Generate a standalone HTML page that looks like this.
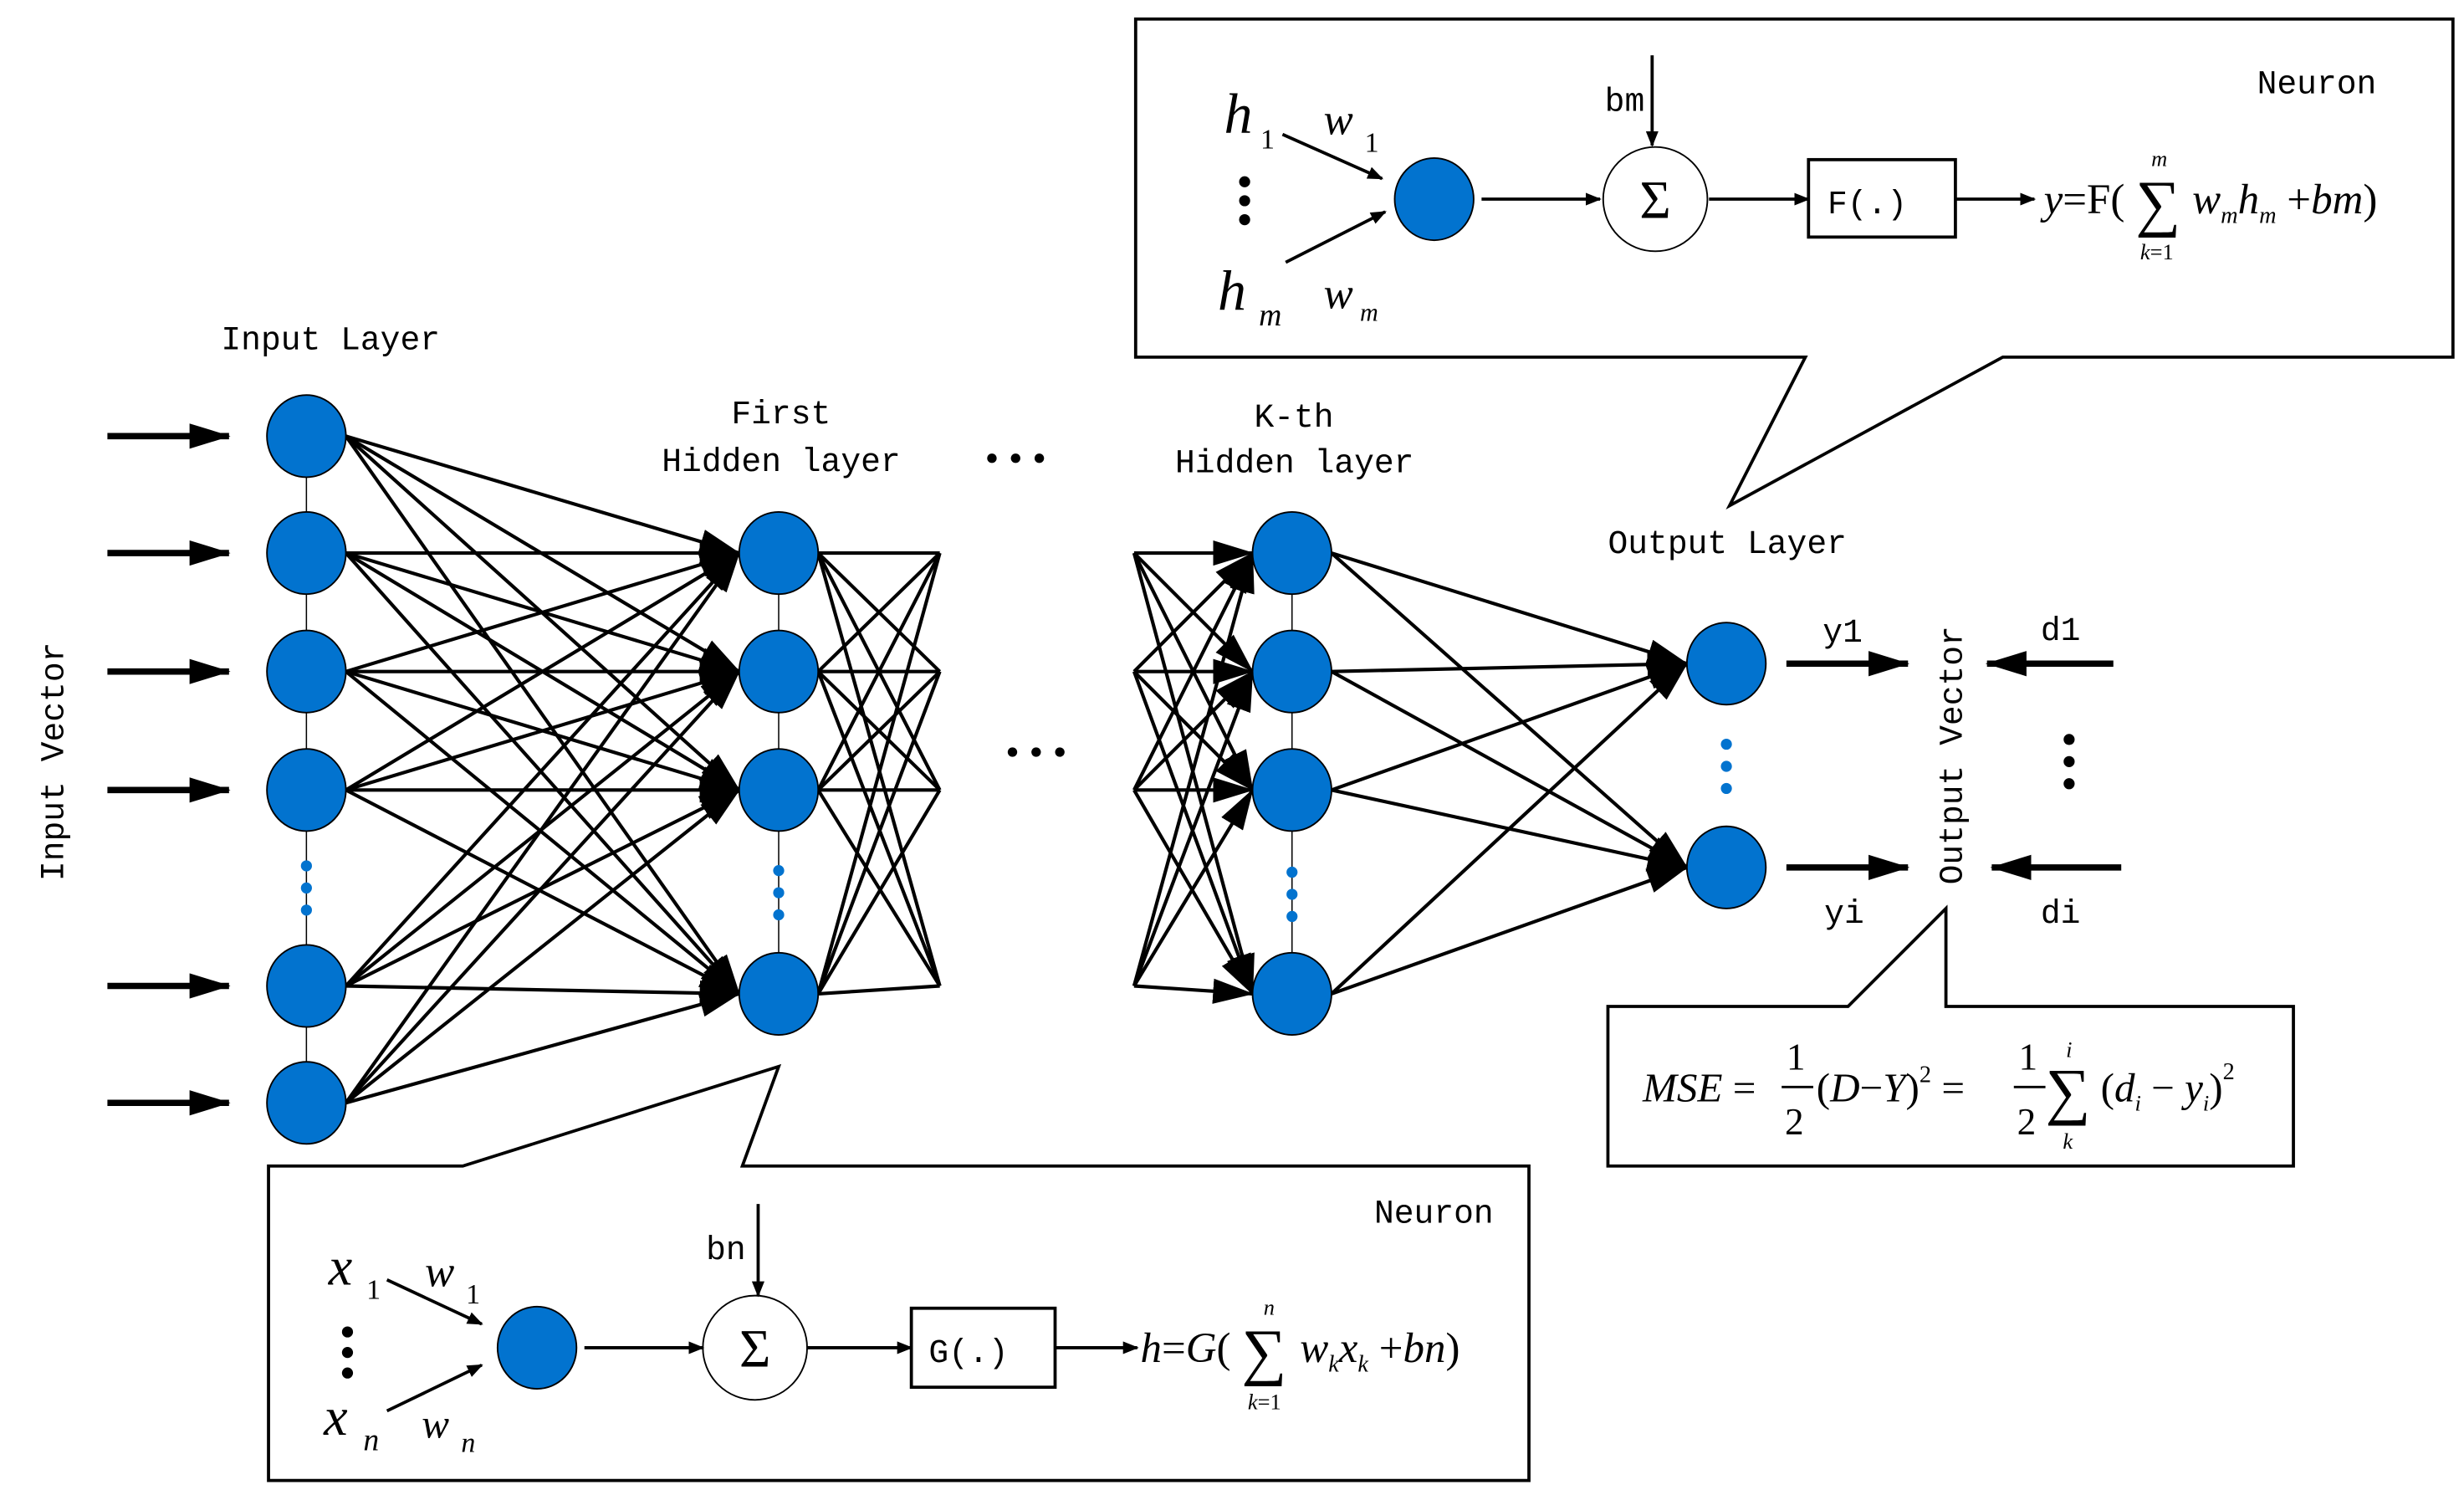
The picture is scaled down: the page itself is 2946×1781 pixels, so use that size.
<!DOCTYPE html>
<html><head><meta charset="utf-8"><style>
html,body{margin:0;padding:0;background:#fff}
svg{display:block}
.m{font-family:"Liberation Mono","Noto Sans CJK SC",monospace;font-size:21px;fill:#000}
.s{font-family:"Liberation Serif",serif;fill:#000}
.i{font-style:italic}
</style></head><body>
<svg width="2946" height="1781" viewBox="0 0 1560 943" xmlns="http://www.w3.org/2000/svg">
<defs>
<marker id="a" markerWidth="10" markerHeight="8" refX="9" refY="4" orient="auto" markerUnits="userSpaceOnUse" viewBox="0 0 10 8"><path d="M0,0 L10,4 L0,8 Z" fill="#000"/></marker>
<marker id="b" markerWidth="26" markerHeight="16" refX="25" refY="8" orient="auto" markerUnits="userSpaceOnUse" viewBox="0 0 26 16"><path d="M0,0 L26,8 L0,16 Z" fill="#000"/></marker>
</defs>
<g stroke="#000" stroke-width="0.8" fill="none">
<line x1="194" y1="276" x2="194" y2="698"/>
<line x1="493" y1="350" x2="493" y2="629"/>
<line x1="818" y1="350" x2="818" y2="629"/>
</g>
<g stroke="#000" stroke-width="4" marker-end="url(#b)">
<line x1="68" y1="276" x2="145" y2="276"/><line x1="68" y1="350" x2="145" y2="350"/>
<line x1="68" y1="425" x2="145" y2="425"/><line x1="68" y1="500" x2="145" y2="500"/>
<line x1="68" y1="624" x2="145" y2="624"/><line x1="68" y1="698" x2="145" y2="698"/>
</g>
<g stroke="#000" stroke-width="2.2" id="c1"></g>
<g stroke="#000" stroke-width="2.2" id="c2"></g>
<script>
var ns="http://www.w3.org/2000/svg";
function L(g,x1,y1,x2,y2,m){var l=document.createElementNS(ns,"line");l.setAttribute("x1",x1);l.setAttribute("y1",y1);l.setAttribute("x2",x2);l.setAttribute("y2",y2);if(m)l.setAttribute("marker-end","url(#"+m+")");g.appendChild(l);}
var g=document.getElementById("c1"),g2=document.getElementById("c2");
var I=[276,350,425,500,624,698],H=[350,425,500,629],P=[350,425,500,624],K=[350,425,500,629],O=[420,549];
I.forEach(function(a){H.forEach(function(b){L(g,219,a,468,b,"b");});});
H.forEach(function(a){P.forEach(function(b){L(g2,518,a,595,b);});});
P.forEach(function(a){K.forEach(function(b){L(g2,718,a,793,b,"b");});});
K.forEach(function(a){O.forEach(function(b){L(g2,843,a,1068,b,"b");});});
</script>
<g fill="#0273cf" stroke="#000" stroke-width="1">
<ellipse cx="194" cy="276" rx="25" ry="26"/><ellipse cx="194" cy="350" rx="25" ry="26"/><ellipse cx="194" cy="425" rx="25" ry="26"/><ellipse cx="194" cy="500" rx="25" ry="26"/><ellipse cx="194" cy="624" rx="25" ry="26"/><ellipse cx="194" cy="698" rx="25" ry="26"/>
<ellipse cx="493" cy="350" rx="25" ry="26"/><ellipse cx="493" cy="425" rx="25" ry="26"/><ellipse cx="493" cy="500" rx="25" ry="26"/><ellipse cx="493" cy="629" rx="25" ry="26"/>
<ellipse cx="818" cy="350" rx="25" ry="26"/><ellipse cx="818" cy="425" rx="25" ry="26"/><ellipse cx="818" cy="500" rx="25" ry="26"/><ellipse cx="818" cy="629" rx="25" ry="26"/>
<ellipse cx="1093" cy="420" rx="25" ry="26"/><ellipse cx="1093" cy="549" rx="25" ry="26"/>
<ellipse cx="908" cy="126" rx="25" ry="26"/><ellipse cx="340" cy="853" rx="25" ry="26"/>
</g>
<g fill="#0273cf">
<circle cx="194" cy="548" r="3.5"/><circle cx="194" cy="562" r="3.5"/><circle cx="194" cy="576" r="3.5"/>
<circle cx="493" cy="551" r="3.5"/><circle cx="493" cy="565" r="3.5"/><circle cx="493" cy="579" r="3.5"/>
<circle cx="818" cy="552" r="3.5"/><circle cx="818" cy="566" r="3.5"/><circle cx="818" cy="580" r="3.5"/>
<circle cx="1093" cy="471" r="3.5"/><circle cx="1093" cy="485" r="3.5"/><circle cx="1093" cy="499" r="3.5"/>
</g>
<g fill="#000">
<circle cx="628" cy="290" r="3"/><circle cx="643" cy="290" r="3"/><circle cx="658" cy="290" r="3"/>
<circle cx="641" cy="476" r="3"/><circle cx="656" cy="476" r="3"/><circle cx="671" cy="476" r="3"/>
<circle cx="1310" cy="468" r="3.5"/><circle cx="1310" cy="482" r="3.5"/><circle cx="1310" cy="496" r="3.5"/>
<circle cx="788" cy="115" r="3.5"/><circle cx="788" cy="127" r="3.5"/><circle cx="788" cy="139" r="3.5"/>
<circle cx="220" cy="843" r="3.5"/><circle cx="220" cy="856" r="3.5"/><circle cx="220" cy="869" r="3.5"/>
</g>
<g stroke="#000" stroke-width="4" marker-end="url(#b)">
<line x1="1131" y1="420" x2="1208" y2="420"/><line x1="1131" y1="549" x2="1208" y2="549"/>
<line x1="1338" y1="420" x2="1258" y2="420"/><line x1="1343" y1="549" x2="1261" y2="549"/>
</g>
<g fill="none" stroke="#000" stroke-width="2">
<path d="M719,12 H1553 V226 H1268 L1095,320 L1143,226 H719 Z"/>
<path d="M170,738 H293 L493,675 L470,738 H968 V937 H170 Z"/>
<path d="M1018,637 H1170 L1232,575 V637 H1452 V738 H1018 Z"/>
</g>
<text class="m" x="140" y="221">Input Layer</text>
<text class="m" x="463" y="268">First</text>
<text class="m" x="419" y="298">Hidden layer</text>
<text class="m" x="794" y="270">K-th</text>
<text class="m" x="744" y="299">Hidden layer</text>
<text class="m" x="1018" y="350">Output Layer</text>
<text class="m" x="1154" y="406">y1</text>
<text class="m" x="1155" y="584">yi</text>
<text class="m" x="1292" y="405">d1</text>
<text class="m" x="1292" y="584">di</text>
<text class="m" transform="translate(40,482) rotate(-90)" text-anchor="middle">Input Vector</text>
<text class="m" transform="translate(1242,478) rotate(-90)" text-anchor="middle">Output Vector</text>
<text class="m" x="1429" y="59">Neuron</text>
<text class="m" x="870" y="774">Neuron</text>
<g stroke="#000" stroke-width="2" fill="none">
<line x1="812" y1="85" x2="875" y2="113" marker-end="url(#a)"/>
<line x1="814" y1="166" x2="877" y2="134" marker-end="url(#a)"/>
<line x1="938" y1="126" x2="1013" y2="126" marker-end="url(#a)"/>
<line x1="1046" y1="35" x2="1046" y2="92" marker-end="url(#a)"/>
<line x1="1082" y1="126" x2="1145" y2="126" marker-end="url(#a)"/>
<line x1="1238" y1="126" x2="1288" y2="126" marker-end="url(#a)"/>
<circle cx="1048" cy="126" r="33" stroke-width="1"/>
<rect x="1145" y="101" width="93" height="49"/>
<line x1="370" y1="853" x2="445" y2="853" marker-end="url(#a)"/>
<line x1="245" y1="810" x2="305" y2="838" marker-end="url(#a)"/>
<line x1="245" y1="893" x2="305" y2="864" marker-end="url(#a)"/>
<line x1="480" y1="762" x2="480" y2="820" marker-end="url(#a)"/>
<line x1="511" y1="853" x2="577" y2="853" marker-end="url(#a)"/>
<line x1="668" y1="853" x2="720" y2="853" marker-end="url(#a)"/>
<circle cx="478" cy="853" r="33" stroke-width="1"/>
<rect x="577" y="828" width="91" height="50"/>
</g>
<text class="s" x="1048" y="138" font-size="34" text-anchor="middle">Σ</text>
<text class="s" x="478" y="865" font-size="34" text-anchor="middle">Σ</text>
<text class="m" x="1157" y="135" font-size="26">F(.)</text>
<text class="m" x="588" y="862" font-size="26">G(.)</text>
<text class="m" x="1016" y="70">bm</text>
<text class="m" x="447" y="797">bn</text>
<text class="s i" x="775" y="84" font-size="36">h</text><text class="s" x="798" y="94" font-size="18">1</text>
<text class="s i" x="838" y="85" font-size="28">w</text><text class="s" x="864" y="96" font-size="18">1</text>
<text class="s i" x="771" y="196" font-size="36">h</text><text class="s i" x="797" y="206" font-size="20">m</text>
<text class="s i" x="838" y="195" font-size="28">w</text><text class="s i" x="861" y="203" font-size="16">m</text>
<text class="s" x="1294" y="135" font-size="27"><tspan class="i">y</tspan>=F(</text>
<text class="s" x="1352" y="142" font-size="40">∑</text>
<text class="s i" x="1362" y="105" font-size="14">m</text>
<text class="s" x="1355" y="164" font-size="14"><tspan class="i">k</tspan>=1</text>
<text class="s i" x="1388" y="135" font-size="27">w<tspan font-size="15" dy="6">m</tspan><tspan dy="-6">h</tspan><tspan font-size="15" dy="6">m</tspan><tspan dy="-6" font-style="normal"> +</tspan><tspan>bm</tspan><tspan font-style="normal">)</tspan></text>
<text class="s i" x="208" y="813" font-size="34">x</text><text class="s" x="232" y="822" font-size="18">1</text>
<text class="s i" x="269" y="814" font-size="28">w</text><text class="s" x="295" y="825" font-size="18">1</text>
<text class="s i" x="205" y="908" font-size="34">x</text><text class="s i" x="230" y="918" font-size="20">n</text>
<text class="s i" x="267" y="910" font-size="26">w</text><text class="s i" x="292" y="919" font-size="18">n</text>
<text class="s" x="722" y="862" font-size="27"><tspan class="i">h</tspan>=<tspan class="i">G</tspan>(</text>
<text class="s" x="786" y="869" font-size="40">∑</text>
<text class="s i" x="800" y="832" font-size="14">n</text>
<text class="s" x="790" y="892" font-size="14"><tspan class="i">k</tspan>=1</text>
<text class="s i" x="823" y="862" font-size="27">w<tspan font-size="15" dy="6">k</tspan><tspan dy="-6">x</tspan><tspan font-size="15" dy="6">k</tspan><tspan dy="-6" font-style="normal"> +</tspan><tspan>bn</tspan><tspan font-style="normal">)</tspan></text>
<text class="s" x="1040" y="697" font-size="26"><tspan class="i">MSE</tspan> =</text>
<text class="s" x="1131" y="677" font-size="24">1</text>
<line x1="1128" y1="688" x2="1148" y2="688" stroke="#000" stroke-width="1.5"/>
<text class="s" x="1130" y="718" font-size="24">2</text>
<text class="s" x="1150" y="697" font-size="26">(<tspan class="i">D</tspan>−<tspan class="i">Y</tspan>)<tspan font-size="15" dy="-12">2</tspan><tspan dy="12"> =</tspan></text>
<text class="s" x="1278" y="677" font-size="24">1</text>
<line x1="1275" y1="688" x2="1295" y2="688" stroke="#000" stroke-width="1.5"/>
<text class="s" x="1277" y="718" font-size="24">2</text>
<text class="s" x="1295" y="704" font-size="40">∑</text>
<text class="s i" x="1308" y="669" font-size="14">i</text>
<text class="s i" x="1306" y="727" font-size="14">k</text>
<text class="s" x="1330" y="697" font-size="26">(<tspan class="i">d</tspan><tspan class="i" font-size="14" dy="6">i</tspan><tspan dy="-6"> − </tspan><tspan class="i">y</tspan><tspan class="i" font-size="14" dy="6">i</tspan><tspan dy="-6">)</tspan><tspan font-size="15" dy="-14">2</tspan></text>
</svg>
</body></html>
